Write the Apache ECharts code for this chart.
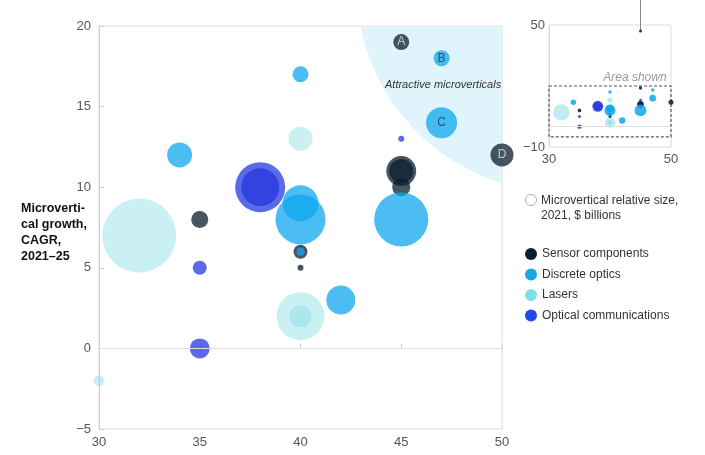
<!DOCTYPE html>
<html>
<head>
<meta charset="utf-8">
<script src="https://cdn.jsdelivr.net/npm/echarts@6/dist/echarts.min.js"></script>
<style>
  html, body { margin: 0; padding: 0; background: #fff; }
  #chart { width: 705px; height: 455px; }
</style>
</head>
<body>
<div id="chart"></div>
<script>
// ---- Data: [x (market position), y (CAGR %), relative size, label] ----
const seriesNames = ['Sensor components', 'Discrete optics', 'Lasers', 'Optical communications'];

const sensorComponents = [
  [35, 8, 1.13, ''], [40, 6, 0.77, ''], [40, 5, 0.14, ''],
  [45, 11, 3.5, ''], [45, 11, 2.25, ''], [45, 10, 1.27, ''],
  [45, 19, 1.0, 'A'], [50, 12, 2.07, 'D'], [45, 47, 0.05, '']
];
const discreteOptics = [
  [34, 12, 2.44, ''], [40, 17, 1.0, ''], [40, 9, 5.06, ''], [40, 8, 9.77, ''],
  [40, 6, 0.25, ''], [42, 3, 3.29, ''], [45, 8, 11.4, ''],
  [47, 18, 1.0, 'B'], [47, 14, 3.75, 'C']
];
const lasers = [
  [32, 7, 21.4, ''], [30, -2, 0.47, ''], [40, 13, 2.25, ''],
  [40, 2, 9.0, ''], [40, 2, 1.9, '']
];
const opticalComms = [
  [35, 5, 0.77, ''], [35, 0, 1.56, ''], [38, 10, 9.77, ''],
  [38, 10, 5.64, ''], [45, 13, 0.14, '']
];

// Main axis ticks
const xTicks = { min: 30, max: 50, interval: 5 };
const yTicks = { min: -5, max: 20, interval: 5 };
// Inset axis ticks
const insetX = { min: 30, max: 50, labels: [30, 50] };
const insetY = { min: -10, max: 50, labels: [-10, 50] };
// "Area shown" window
const areaShown = [[30, 20], [50, -5]];
// Leader line point in inset (off-scale outlier)
const leaderPoint = [45, 47];
// Attractive region (ellipse in data space)
const regionCenter = [53, 22.4];
const regionRadius = [10.2, 12.7];

const colors = {
  'Sensor components': '#0b1d2e',
  'Discrete optics': '#0fa7ed',
  'Lasers': '#80dbe4',
  'Optical communications': '#2438e0'
};
const opacities = {
  'Sensor components': 0.75,
  'Discrete optics': 0.75,
  'Lasers': 0.42,
  'Optical communications': 0.75
};
const legendColors = {
  'Sensor components': '#0e1d2d',
  'Discrete optics': '#1aa7e6',
  'Lasers': '#7fe0e4',
  'Optical communications': '#2346e8'
};
const labelColors = { A: '#e9eef2', B: '#143049', C: '#143049', D: '#e9eef2' };

const dataByName = {
  'Sensor components': sensorComponents,
  'Discrete optics': discreteOptics,
  'Lasers': lasers,
  'Optical communications': opticalComms
};
const drawOrder = ['Lasers', 'Sensor components', 'Discrete optics', 'Optical communications'];

const fmtNum = v => (v < 0 ? '\u2212' + Math.abs(v) : String(v));
const FONT = '"Liberation Sans", Arial, sans-serif';

function mainSeries(name) {
  return {
    name: name,
    type: 'scatter',
    xAxisIndex: 0, yAxisIndex: 0,
    clip: false,
    z: 3,
    symbolSize: d => 16 * Math.sqrt(d[2]),
    itemStyle: { color: colors[name], opacity: opacities[name] },
    emphasis: { disabled: true },
    data: dataByName[name].map(d => ({
      value: d,
      label: d[3] ? { show: true, formatter: d[3], color: labelColors[d[3]], fontSize: 12, fontFamily: FONT } : { show: false }
    }))
  };
}
function insetSeries(name) {
  return {
    name: name,
    type: 'scatter',
    xAxisIndex: 1, yAxisIndex: 1,
    clip: false,
    z: 3,
    symbolSize: d => Math.max(3, 16 * Math.sqrt(d[2]) * 0.22),
    itemStyle: { color: colors[name], opacity: Math.min(1, opacities[name] + 0.1) },
    emphasis: { disabled: true },
    data: dataByName[name]
  };
}

const chart = echarts.init(document.getElementById('chart'), null, { renderer: 'canvas' });

const option = {
  animation: false,
  textStyle: { fontFamily: FONT },
  title: {
    text: 'Microverti-\ncal growth,\nCAGR,\n2021\u201325',
    left: 21, top: 201,
    padding: 0,
    textStyle: { fontSize: 12.5, fontWeight: 'bold', color: '#111', lineHeight: 16, fontFamily: FONT }
  },
  legend: {
    data: seriesNames.map(n => ({ name: n, itemStyle: { color: legendColors[n], opacity: 1 } })),
    orient: 'vertical',
    left: 525, top: 248,
    icon: 'circle',
    itemWidth: 12, itemHeight: 12, itemGap: 8.5,
    selectedMode: false,
    padding: 0,
    textStyle: { fontSize: 12, color: '#333', fontFamily: FONT }
  },
  grid: [
    { left: 99, top: 26, width: 403, height: 403, show: true, borderColor: '#dcdcdc', borderWidth: 1 },
    { left: 549, top: 25, width: 122, height: 122, show: true, borderColor: '#dcdcdc', borderWidth: 1 }
  ],
  xAxis: [
    {
      type: 'value', gridIndex: 0, min: xTicks.min, max: xTicks.max, interval: xTicks.interval,
      axisLine: { lineStyle: { color: '#cfcfcf' } },
      axisTick: { inside: true, length: 5, lineStyle: { color: '#cfcfcf' } },
      splitLine: { show: false },
      axisLabel: { color: '#555', fontSize: 13, margin: 7, formatter: fmtNum }
    },
    {
      type: 'value', gridIndex: 1, min: insetX.min, max: insetX.max, interval: 5,
      axisLine: { lineStyle: { color: '#dcdcdc' } },
      axisTick: { show: false },
      splitLine: { show: false },
      axisLabel: { color: '#555', fontSize: 13, margin: 6, formatter: v => insetX.labels.includes(v) ? fmtNum(v) : '' }
    }
  ],
  yAxis: [
    {
      type: 'value', gridIndex: 0, min: yTicks.min, max: yTicks.max, interval: yTicks.interval,
      axisLine: { show: true, lineStyle: { color: '#cfcfcf' } },
      axisTick: { show: true, inside: true, length: 5, lineStyle: { color: '#cfcfcf' } },
      splitLine: { show: false },
      axisLabel: { color: '#555', fontSize: 13, margin: 8, formatter: fmtNum }
    },
    {
      type: 'value', gridIndex: 1, min: insetY.min, max: insetY.max, interval: 10,
      axisLine: { show: true, lineStyle: { color: '#dcdcdc' } },
      axisTick: { show: false },
      splitLine: { show: false },
      axisLabel: { color: '#555', fontSize: 13, margin: 4, formatter: v => insetY.labels.includes(v) ? fmtNum(v) : '' }
    }
  ],
  graphic: [
    {
      type: 'text', left: 385, top: 79, z: 10,
      style: { text: 'Attractive microverticals', fontSize: 11, fontStyle: 'italic', fill: '#333', fontFamily: FONT }
    },
    {
      type: 'circle', shape: { cx: 531, cy: 200, r: 5.5 }, z: 10,
      style: { fill: '#fff', stroke: '#aaa', lineWidth: 1 }
    },
    {
      type: 'text', left: 541, top: 193, z: 10,
      style: { text: 'Microvertical relative size,\n2021, $ billions', fontSize: 12, lineHeight: 15, fill: '#333', fontFamily: FONT }
    }
  ],
  series: [
    {
      type: 'custom',
      xAxisIndex: 0, yAxisIndex: 0,
      z: 1, silent: true,
      data: [regionCenter],
      renderItem: function (params, api) {
        const c = api.coord([api.value(0), api.value(1)]);
        const s = api.size(regionRadius);
        const cs = params.coordSys;
        const pts = [];
        for (let i = 0; i <= 180; i++) {
          const a = i / 180 * Math.PI * 2;
          pts.push([c[0] + s[0] * Math.cos(a), c[1] + s[1] * Math.sin(a)]);
        }
        return {
          type: 'polygon',
          shape: { points: pts },
          style: { fill: '#e0f4fb' },
          clipPath: { type: 'rect', shape: { x: cs.x, y: cs.y, width: cs.width, height: cs.height } }
        };
      }
    },
    // leader line from off-scale point in inset to top edge
    {
      type: 'custom',
      xAxisIndex: 1, yAxisIndex: 1,
      z: 2, silent: true, clip: false,
      data: [leaderPoint],
      renderItem: function (params, api) {
        const c = api.coord([api.value(0), api.value(1)]);
        return {
          type: 'line',
          shape: { x1: c[0], y1: c[1], x2: c[0], y2: 0 },
          style: { stroke: '#888', lineWidth: 1 }
        };
      }
    },
    // zero line main
    {
      type: 'line', xAxisIndex: 0, yAxisIndex: 0, data: [], silent: true, z: 2,
      markLine: {
        silent: true, symbol: 'none', label: { show: false },
        lineStyle: { color: '#dedede', type: 'solid', width: 1 },
        data: [{ yAxis: 0 }]
      }
    },
    // zero line inset + area shown
    {
      type: 'line', xAxisIndex: 1, yAxisIndex: 1, data: [], silent: true, z: 2,
      markLine: {
        silent: true, symbol: 'none', label: { show: false },
        lineStyle: { color: '#dedede', type: 'solid', width: 1 },
        data: [{ yAxis: 0 }]
      },
      markArea: {
        silent: true,
        itemStyle: { color: 'rgba(0,0,0,0)', borderColor: '#555', borderWidth: 1.2, borderType: [3, 2] },
        label: {
          show: true, position: 'insideTopRight', offset: [0, -19],
          formatter: 'Area shown', color: '#999', fontStyle: 'italic', fontSize: 12, fontFamily: FONT
        },
        data: [[{ coord: areaShown[0] }, { coord: areaShown[1] }]]
      }
    },
    ...drawOrder.map(mainSeries),
    ...drawOrder.map(insetSeries)
  ]
};
chart.setOption(option);
</script>
</body>
</html>
